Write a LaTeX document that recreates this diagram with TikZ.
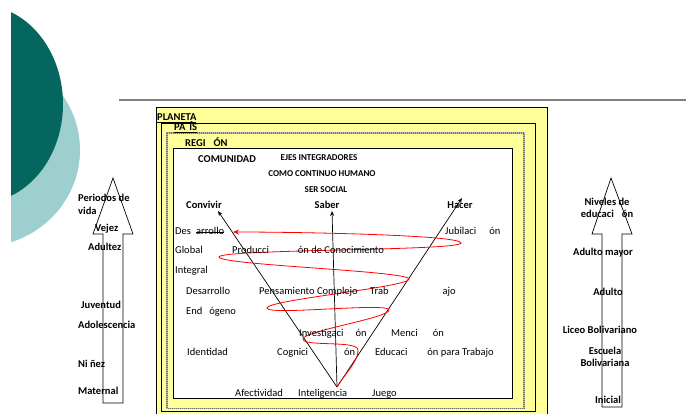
\documentclass[tikz,border=0pt]{standalone}
\usepackage{
	fontspec,			% Fonts
	xcolor,
	tikz
}
\setmainfont{Carlito}
\usetikzlibrary{arrows.meta}

\definecolor{amarillo}{HTML}{FFFF99}
\definecolor{tealoscuro}{HTML}{05665F}
\definecolor{tealclaro}{HTML}{9DCFCF}

\begin{document}
\begin{tikzpicture}[x=1pt,y=-1pt,
		texto/.style={font=\fontsize{10.5}{12}\selectfont, inner sep=0pt, anchor=mid west},
		titulo/.style={font=\fontsize{10.5}{13}\selectfont\bfseries, inner sep=0pt, anchor=mid west},
		nivel/.style={font=\fontsize{10.5}{12}\selectfont\bfseries, inner sep=0pt, anchor=mid, align=center},
		eje/.style={font=\fontsize{9}{11}\selectfont\bfseries, inner sep=0pt, anchor=mid},
		flecha/.style={-{Stealth[length=5pt,width=4pt]}, line width=0.7pt},
		bloque/.style={draw=black, fill=white, line width=0.7pt}]
		\useasboundingbox (0,0) rectangle (686,414);

		% Circles at the left edge.
		\begin{scope}
			\clip (11,0) rectangle (130,300);
			\fill[tealclaro] (-20,150) ellipse [x radius=100, y radius=97];
			\fill[tealoscuro] (-20,104) ellipse [x radius=83, y radius=99];
		\end{scope}
		\draw[gray, line width=1.5pt] (119,100) -- (686,100);

		% Nested boxes.
		\draw[fill=amarillo, line width=0.8pt] (156,107) rectangle (547,414);
		\draw[line width=0.8pt] (161,123) rectangle (535,411);
		\draw[gray!55, line width=1.6pt] (167,133) rectangle (524,408.5);
		\draw[gray!90!black, dash pattern=on 1pt off 1pt, line width=1.2pt] (167,133) rectangle (524,408.5);
		\draw[fill=white, line width=0.8pt] (173,148) rectangle (512,398);

		\node[titulo] (planeta) at (157,118) {\underline{PLANETA}};
		\node[titulo] (pais) at (174,128) {\underline{PA\hspace{4pt}ÍS}};
		\node[titulo] (region) at (185,144) {\underline{REGI\hspace{8pt}ÓN}};
		\node[titulo] (comunidad) at (198,160) {COMUNIDAD};
		\node[eje] (ejes) at (319,158) {EJES INTEGRADORES};
		\node[eje] (continuo) at (322,174) {COMO CONTINUO HUMANO};
		\node[eje] (social) at (326,190) {SER SOCIAL};
		\node[nivel] (convivir) at (204,206) {Convivir};
		\node[nivel] (saber) at (327,206) {Saber};
		\node[nivel] (hacer) at (460,206) {Hacer};

		% Axes from the vertex.
		\coordinate (vertice) at (337,387);
		\coordinate (pconvivir) at (218,211);
		\coordinate (psaber) at (332,211);
		\coordinate (phacer) at (462,198);
		\draw[flecha] (vertice) -- (pconvivir);
		\draw[flecha] (vertice) -- (psaber);
		\draw[flecha] (vertice) -- (phacer);

		% Spiral.
		\coordinate (pespiral) at (233,232);
		\draw[red, line width=0.8pt, -{Stealth[length=6pt,width=5pt]}] (vertice)
			.. controls (346,372) and (358,362) .. (358,350)
			.. controls (358,340) and (303,347) .. (303,339)
			.. controls (303,331) and (389,318) .. (389,310)
			.. controls (389,302) and (267,316) .. (267,308)
			.. controls (267,300) and (409,287) .. (409,279)
			.. controls (409,271) and (219,265) .. (219,257)
			.. controls (219,249) and (461,251) .. (461,243)
			.. controls (461,235) and (300,232) .. (pespiral);

		\node[texto] (des) at (175,232) {Des};
		\node[texto] (arrollo) at (196,232) {arrollo};
		\draw[line width=0.6pt] (arrollo.mid west) -- (arrollo.mid east); % struck word
		\node[texto] (jubilacion) at (445,232) {Jubilaci\hspace{13pt}ón};
		\node[texto] (global) at (175,251) {Global};
		\node[texto] (produccion) at (232,251) {Producci\hspace{29pt}ón de Conocimiento};
		\node[texto] (integral) at (175,271) {Integral};
		\node[texto] (desarrollo) at (186,292) {Desarrollo};
		\node[texto] (pensamiento) at (259,292) {Pensamiento Complejo};
		\node[texto] (trabajo) at (370,292) {Trab\hspace{54pt}ajo};
		\node[texto] (endogeno) at (186,312) {End\hspace{7pt}ógeno};
		\node[texto] (investigacion) at (299,334) {Investigaci\hspace{12pt}ón};
		\node[texto] (mencion) at (391,334) {Menci\hspace{15pt}ón};
		\node[texto] (identidad) at (187,353) {Identidad};
		\node[texto] (cognicion) at (277,353) {Cognici\hspace{36pt}ón};
		\node[texto] (educacion) at (375,353) {Educaci\hspace{20pt}ón para Trabajo};
		\node[texto] (afectividad) at (235,394) {Afectividad};
		\node[texto] (inteligencia) at (298,394) {Inteligencia};
		\node[texto] (juego) at (372,394) {Juego};

		% Block arrows.
		\draw[bloque] (103,403) -- (103,234) -- (93,234) -- (113,178) -- (133,234) -- (123,234) -- (123,403) -- cycle;
		\draw[bloque] (602,407) -- (602,234) -- (592,234) -- (611,178) -- (632,234) -- (622,234) -- (622,407) -- cycle;

		\node[titulo, align=left] (periodos) at (78,212.5) {Periodos de\\vida};
		\node[titulo] (vejez) at (95,229) {Vejez};
		\node[titulo] (adultez) at (88,248) {Adultez};
		\node[titulo] (juventud) at (81,306) {Juventud};
		\node[titulo] (adolescencia) at (78,326) {Adolescencia};
		\node[titulo] (ninez) at (78,365) {Ni ñez};
		\node[titulo] (maternal) at (78,392) {Maternal};

		\node[nivel] (niveles) at (607,215.5) {Niveles de\\educaci\hspace{8pt}ón};
		\node[nivel] (mayor) at (603,253) {Adulto mayor};
		\node[nivel] (adulto) at (608,293) {Adulto};
		\node[nivel] (liceo) at (600,331) {Liceo Bolivariano};
		\node[nivel] (escuela) at (605,364.5) {Escuela\\Bolivariana};
		\node[nivel] (inicial) at (608,401) {Inicial};
	\end{tikzpicture}
\end{document}
